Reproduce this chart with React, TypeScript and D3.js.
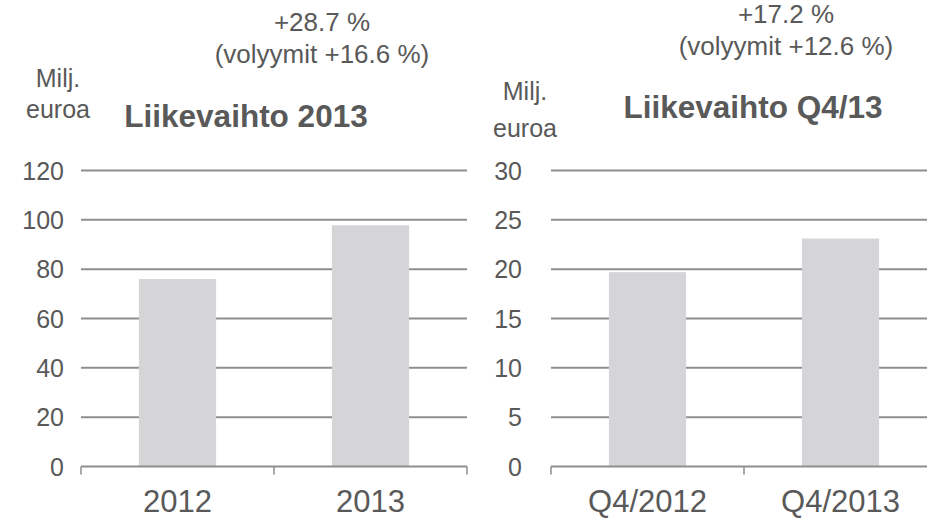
import React from "react";
import * as d3 from "d3";

// data
const yearCategories = ["2012", "2013"];
const yearValues = [76.0, 97.8];
const yearTicks = [0, 20, 40, 60, 80, 100, 120];

const quarterCategories = ["Q4/2012", "Q4/2013"];
const quarterValues = [19.7, 23.1];
const quarterTicks = [0, 5, 10, 15, 20, 25, 30];

const TEXT = "#595959";
const GRID = "#8e8e8e";
const BAR = "#d5d4d6";
const FONT = "'Liberation Sans', Arial, sans-serif";

type PanelProps = {
  categories: string[];
  values: number[];
  ticks: number[];
  x0: number;
  x1: number;
  tickGap: number;
  title: string;
  titlePos: [number, number];
  change: string;
  volume: string;
  changePos: [number, number, number];
  unitPos: [number, number, number];
};

const Panel = ({
  categories,
  values,
  ticks,
  x0,
  x1,
  tickGap,
  title,
  titlePos,
  change,
  volume,
  changePos,
  unitPos,
}: PanelProps) => {
  const yBottom = 466.5;
  const yTop = 170.5;
  const y = d3
    .scaleLinear()
    .domain([0, d3.max(ticks) as number])
    .range([yBottom, yTop]);

  const band = d3.scaleBand().domain(categories).range([x0, x1]).padding(0);
  const x = d3
    .scaleBand()
    .domain(categories)
    .range([x0, x1])
    .paddingInner(0.6)
    .paddingOuter(0.3);

  const boundaries = [x0, ...categories.map((c) => (band(c) as number) + band.bandwidth())];

  return (
    <g fontFamily={FONT} fill={TEXT}>
      {/* gridlines */}
      {ticks.slice(1).map((t) => (
        <line
          key={"g" + t}
          x1={x0}
          x2={x1}
          y1={y(t)}
          y2={y(t)}
          stroke={GRID}
          strokeWidth={2}
        />
      ))}

      {/* bars */}
      {categories.map((c, i) => (
        <rect
          key={c}
          x={x(c)}
          y={y(values[i])}
          width={x.bandwidth()}
          height={yBottom - y(values[i])}
          fill={BAR}
        />
      ))}

      {/* baseline and category ticks */}
      <line x1={x0} x2={x1} y1={yBottom} y2={yBottom} stroke={GRID} strokeWidth={2} />
      {boundaries.map((bx, i) => (
        <line
          key={"t" + i}
          x1={bx}
          x2={bx}
          y1={yBottom}
          y2={yBottom + 8}
          stroke={GRID}
          strokeWidth={1.5}
        />
      ))}

      {/* y tick labels */}
      {ticks.map((t) => (
        <text
          key={"l" + t}
          x={x0 - tickGap}
          y={y(t)}
          dy="0.36em"
          textAnchor="end"
          fontSize={25}
        >
          {t}
        </text>
      ))}

      {/* category labels */}
      {categories.map((c) => (
        <text
          key={"c" + c}
          x={(band(c) as number) + band.bandwidth() / 2}
          y={512}
          textAnchor="middle"
          fontSize={31}
        >
          {c}
        </text>
      ))}

      {/* change annotation */}
      <text x={changePos[0]} y={changePos[1]} textAnchor="middle" fontSize={26}>
        {change}
      </text>
      <text x={changePos[0]} y={changePos[2]} textAnchor="middle" fontSize={26}>
        {volume}
      </text>

      {/* unit */}
      <text x={unitPos[0]} y={unitPos[1]} textAnchor="middle" fontSize={25}>
        Milj.
      </text>
      <text x={unitPos[0]} y={unitPos[2]} textAnchor="middle" fontSize={25}>
        euroa
      </text>

      {/* title */}
      <text
        x={titlePos[0]}
        y={titlePos[1]}
        textAnchor="middle"
        fontSize={31.5}
        fontWeight="bold"
      >
        {title}
      </text>
    </g>
  );
};

export default function App() {
  return (
    <svg
      width={927}
      height={521}
      style={{ position: "absolute", left: 0, top: 0, background: "#fff" }}
    >
      <Panel
        categories={yearCategories}
        values={yearValues}
        ticks={yearTicks}
        x0={81}
        x1={467}
        tickGap={17}
        title="Liikevaihto 2013"
        titlePos={[246, 127]}
        change="+28.7 %"
        volume="(volyymit +16.6 %)"
        changePos={[322, 31, 63]}
        unitPos={[58, 87, 118]}
      />
      <Panel
        categories={quarterCategories}
        values={quarterValues}
        ticks={quarterTicks}
        x0={551}
        x1={937}
        tickGap={29}
        title="Liikevaihto Q4/13"
        titlePos={[753, 118]}
        change="+17.2 %"
        volume="(volyymit +12.6 %)"
        changePos={[786, 23, 55]}
        unitPos={[525, 100, 137]}
      />
    </svg>
  );
}
